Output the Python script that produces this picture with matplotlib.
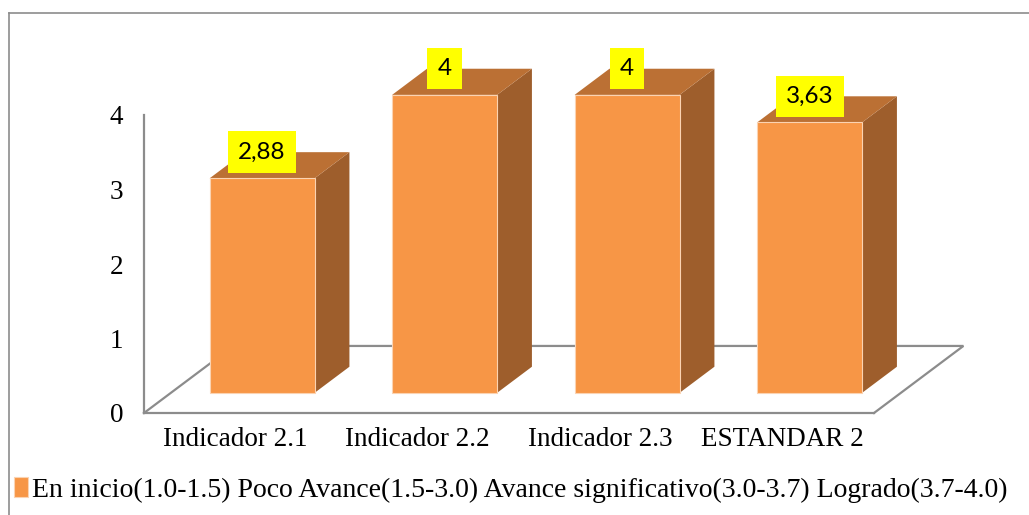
import matplotlib
matplotlib.use('Agg')
from matplotlib import pyplot as plt
from matplotlib.patches import Polygon
from matplotlib.lines import Line2D
import numpy as np

# datos del grafico
categorias = ['Indicador 2.1', 'Indicador 2.2', 'Indicador 2.3', 'ESTANDAR 2']
valores = [2.88, 4, 4, 3.63]
etiquetas = ['2,88', '4', '4', '3,63']
leyenda = 'En inicio(1.0-1.5) Poco Avance(1.5-3.0) Avance significativo(3.0-3.7) Logrado(3.7-4.0)'

naranja = '#f79646'
lateral = '#9e5e2c'
superior = '#bb7034'
gris = '#8c8c8c'

plt.rcParams['font.family'] = ['Liberation Serif', 'DejaVu Serif']

W, H = 1029, 515
fig = plt.figure(figsize=(W / 100, H / 100), dpi=100)
ax = fig.add_axes([144 / W, (H - 413) / H, (874 - 144) / W, (413 - 115) / H])
ax.set_xlim(0, len(categorias))
ax.set_ylim(0, 4)

# profundidad del "3D" en unidades de datos
prof_x, prof_y = 0.49, 0.9
z0, dz = 0.3, 0.39
ancho = 0.575

# piso
n = len(categorias)
ax.plot([0, prof_x, n + prof_x, n], [0, prof_y, prof_y, 0], color=gris, lw=1.6,
        clip_on=False, zorder=1, solid_joinstyle='miter')

x = np.arange(n) + 0.5 + z0 * prof_x
base = z0 * prof_y
barras = ax.bar(x, valores, width=ancho, bottom=base, color=naranja,
                edgecolor='#fbd3b2', linewidth=0.8, clip_on=False, zorder=3,
                label=leyenda)

for xi, v, et in zip(x, valores, etiquetas):
    x0 = xi - ancho / 2
    x1 = xi + ancho / 2
    top = base + v
    ox, oy = dz * prof_x, dz * prof_y
    lado = Polygon([(x1, base), (x1 + ox, base + oy), (x1 + ox, top + oy), (x1, top)],
                   closed=True, facecolor=lateral, edgecolor='none', clip_on=False, zorder=2)
    tapa = Polygon([(x0, top), (x1, top), (x1 + ox, top + oy), (x0 + ox, top + oy)],
                   closed=True, facecolor=superior, edgecolor='none', clip_on=False, zorder=2)
    ax.add_patch(lado)
    ax.add_patch(tapa)
    ax.text(xi, top + oy, et, ha='center', va='center', fontsize=17.5,
            family=['Lato', 'DejaVu Sans'], zorder=5,
            bbox=dict(boxstyle='square,pad=0.42', facecolor='#ffff00', edgecolor='none'))

for s in ['top', 'right']:
    ax.spines[s].set_visible(False)
for s in ['left', 'bottom']:
    ax.spines[s].set_color(gris)
    ax.spines[s].set_linewidth(1.6)
ax.set_facecolor('none')

ax.set_yticks(range(5))
ax.set_yticklabels([str(i) for i in range(5)], fontsize=19.5)
ax.set_xticks(np.arange(n) + 0.5)
ax.set_xticklabels(categorias, fontsize=19.5)
ax.tick_params(axis='y', length=0, pad=15)
ax.tick_params(axis='x', length=0, pad=10)

fig.legend(handles=[barras], loc='center left', bbox_to_anchor=(14 / W, (H - 490) / H),
           frameon=False, fontsize=20, handlelength=0.5, handleheight=0.7,
           handletextpad=0.15, borderpad=0, borderaxespad=0)

# marco exterior
fig.add_artist(Line2D([9 / W, 9 / W], [0, (H - 13) / H], color=gris, lw=1.2))
fig.add_artist(Line2D([9 / W, 1], [(H - 13) / H, (H - 13) / H], color=gris, lw=1.2))

fig.savefig('out.png', dpi=100)
